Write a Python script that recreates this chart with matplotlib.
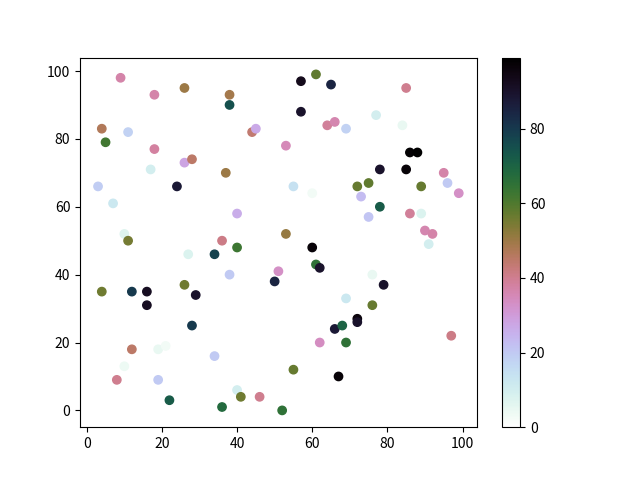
import matplotlib
matplotlib.use("Agg")
import matplotlib.pyplot as plt

plt.rcParams['font.family'] = ['Noto Sans CJK SC', 'DejaVu Sans']

x = [9, 18, 26, 38, 38, 4, 11, 5, 18, 44, 45, 17, 26, 28, 37, 3, 24, 7, 40, 10,
     11, 4, 36, 40, 27, 34, 38, 26, 29, 12, 16, 16, 28, 12, 19, 21, 10, 8, 19, 34,
     22, 36, 40, 41, 46, 52, 55, 50, 51, 53,
     57, 61, 65, 57, 85, 64, 66, 69, 77, 84, 53, 55, 60, 86, 88, 78, 85, 72, 75, 73,
     89, 95, 96, 99, 75, 78, 86, 89, 90, 92, 91, 60, 61, 62, 76, 79, 69, 76, 72, 72,
     66, 68, 59, 62, 69, 97, 67]
y = [98, 93, 95, 93, 90, 83, 82, 79, 77, 82, 83, 71, 73, 74, 70, 66, 66, 61, 58, 52,
     50, 35, 50, 48, 46, 46, 40, 37, 34, 35, 35, 31, 25, 18, 18, 19, 13, 9, 9, 16,
     3, 1, 6, 4, 4, 0, 12, 38, 41, 52,
     97, 99, 96, 88, 95, 84, 85, 83, 87, 84, 78, 66, 64, 76, 76, 71, 71, 66, 67, 63,
     66, 70, 67, 64, 57, 60, 58, 58, 53, 52, 49, 48, 43, 42, 40, 37, 33, 31, 27, 26,
     24, 25, 20, 20, 20, 22, 10]
c = [37, 37, 50, 49, 75, 47, 18, 62, 38, 44, 27, 10, 28, 45, 50, 19, 88, 12, 26, 7,
     55, 56, 41, 63, 8, 78, 20, 56, 90, 80, 92, 92, 80, 45, 5, 3, 4, 40, 20, 20,
     72, 68, 10, 56, 40, 65, 57, 85, 33, 51,
     93, 58, 85, 90, 40, 39, 36, 18, 10, 5, 35, 14, 3, 98, 99, 90, 97, 57, 58, 23,
     57, 37, 20, 33, 21, 72, 39, 8, 36, 37, 10, 97, 65, 90, 5, 90, 12, 57, 96, 90,
     88, 70, 0, 34, 65, 41, 97]

fig, ax = plt.subplots(figsize=(6.4, 4.8), dpi=100)
sc = ax.scatter(x, y, c=c, cmap='cubehelix_r')
fig.colorbar(sc, ax=ax)
fig.savefig('out.png', dpi=100)
